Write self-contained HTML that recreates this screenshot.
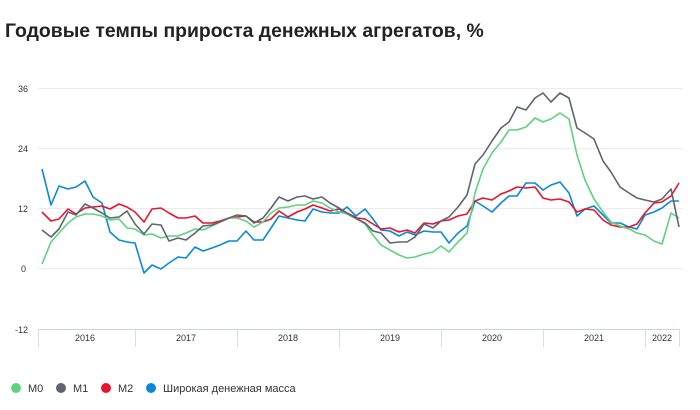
<!DOCTYPE html>
<html><head><meta charset="utf-8"><style>
body{margin:0;background:#fff;width:700px;height:405px;overflow:hidden;font-family:"Liberation Sans",sans-serif}
</style></head><body>
<svg width="700" height="405" viewBox="0 0 700 405" xmlns="http://www.w3.org/2000/svg" font-family="Liberation Sans, sans-serif">
<text x="5" y="37" font-size="19.4" font-weight="bold" fill="#222">Годовые темпы прироста денежных агрегатов, %</text>
<g stroke="#ececec" stroke-width="1">
<line x1="38" y1="88.5" x2="683" y2="88.5"/><line x1="38" y1="148.5" x2="683" y2="148.5"/>
<line x1="38" y1="208.5" x2="683" y2="208.5"/><line x1="38" y1="268.5" x2="683" y2="268.5"/>
</g>
<g font-size="9" fill="#333" text-anchor="end">
<text x="28" y="92">36</text><text x="28" y="152">24</text><text x="28" y="212">12</text><text x="26" y="272">0</text><text x="28" y="333">-12</text>
</g>
<line x1="38" y1="329.5" x2="680" y2="329.5" stroke="#c9d3e6" stroke-width="1"/>
<g stroke="#d5ddee" stroke-width="1">
<line x1="38.5" y1="329" x2="38.5" y2="347"/><line x1="135.5" y1="329" x2="135.5" y2="347"/><line x1="237.5" y1="329" x2="237.5" y2="347"/><line x1="339.5" y1="329" x2="339.5" y2="347"/><line x1="441.5" y1="329" x2="441.5" y2="347"/><line x1="543.5" y1="329" x2="543.5" y2="347"/><line x1="645.5" y1="329" x2="645.5" y2="347"/><line x1="679.5" y1="329" x2="679.5" y2="347"/>
</g>
<g font-size="9" fill="#333" text-anchor="middle">
<text x="85" y="341">2016</text><text x="186" y="341">2017</text><text x="288" y="341">2018</text><text x="390" y="341">2019</text><text x="492" y="341">2020</text><text x="594" y="341">2021</text><text x="662" y="341">2022</text>
</g>
<g fill="none" stroke-width="1.6" stroke-linejoin="round">
<polyline stroke="#0a8ad6" points="42,169 51,205 59,186 68,189 76,187 85,181 93,197 102,203 110,232 119,240 127,242 135,243 144,273 152,265 161,269 169,263 178,257 186,258 195,247 203,251 212,248 220,245 229,241 237,241 246,231 254,240 263,240 271,228 279,216 288,218 297,220 305,221 313,209 322,212 330,213 339,213 347,207 356,216 365,209 373,219 381,230 390,231 399,236 407,232 415,235 424,231 433,232 441,232 449,243 458,233 467,226 475,201 483,206 492,212 501,203 509,196 517,196 526,183 535,183 543,190 551,185 560,182 569,193 577,216 585,209 594,206 603,215 611,223 620,223 629,227 637,229 645,215 654,212 662,208 671,201 679,201"/>
<polyline stroke="#e8142e" points="42,212 51,221 59,219 68,209 76,214 85,208 93,207 102,206 110,209 119,204 127,207 135,212 144,222 152,209 161,208 169,213 178,218 186,218 195,216 203,223 212,223 220,221 229,218 237,217 246,216 254,222 263,222 271,219 279,211 288,217 297,212 305,209 313,205 322,208 330,211 339,209 347,213 357,218 365,219 373,224 381,229 390,228 399,232 407,230 415,233 424,223 433,224 441,221 449,220 458,216 467,214 475,201 483,198 492,200 501,194 509,191 517,187 526,188 535,187 543,198 551,200 560,199 569,202 577,212 585,209 594,210 603,220 611,225 620,227 629,227 637,224 645,213 654,203 662,202 671,196 679,183"/>
<polyline stroke="#5ed27e" points="42,264 51,242 59,233 68,223 76,217 85,214 93,214 102,216 110,220 119,219 127,228 135,229 144,235 152,234 161,238 169,236 178,236 186,233 195,229 203,230 212,226 220,222 229,218 237,218 246,221 254,227 263,222 271,213 279,208 288,207 297,205 305,205 313,201 322,203 330,208 339,212 347,214 357,219 365,224 373,235 381,245 390,250 399,255 407,258 415,257 424,254 433,252 441,246 449,252 458,242 467,233 475,193 483,169 492,153 501,142 509,130 517,130 526,127 535,118 543,122 551,119 560,113 569,119 577,155 585,180 594,199 603,212 611,222 620,226 629,229 637,233 645,235 654,241 662,244 671,213 679,218"/>
<polyline stroke="#5f6470" points="42,230 51,237 59,229 68,212 76,215 85,204 93,208 102,213 110,218 119,217 127,211 135,224 144,234 152,224 161,225 169,241 178,238 186,240 195,233 203,226 212,225 220,222 229,218 237,215 246,216 254,223 263,218 271,208 279,197 288,201 297,197 305,196 313,199 322,197 330,203 339,208 347,213 357,219 365,223 373,231 381,233 390,243 399,242 407,242 415,237 424,224 433,228 441,221 449,217 458,207 467,195 475,164 483,155 492,141 501,128 509,122 517,107 526,110 535,98 543,93 551,102 560,93 569,98 577,128 585,133 594,139 603,161 611,172 620,187 629,193 637,198 645,200 654,202 662,199 671,189 679,227"/>
</g>
<g font-size="11" fill="#333">
<circle cx="16" cy="388" r="5" fill="#5ed27e"/><text x="28" y="392">М0</text>
<circle cx="61" cy="388" r="5" fill="#5f6470"/><text x="73" y="392">М1</text>
<circle cx="106" cy="388" r="5" fill="#e8142e"/><text x="118" y="392">М2</text>
<circle cx="151" cy="388" r="5" fill="#0a8ad6"/><text x="163" y="392">Широкая денежная масса</text>
</g>
</svg>
</body></html>
